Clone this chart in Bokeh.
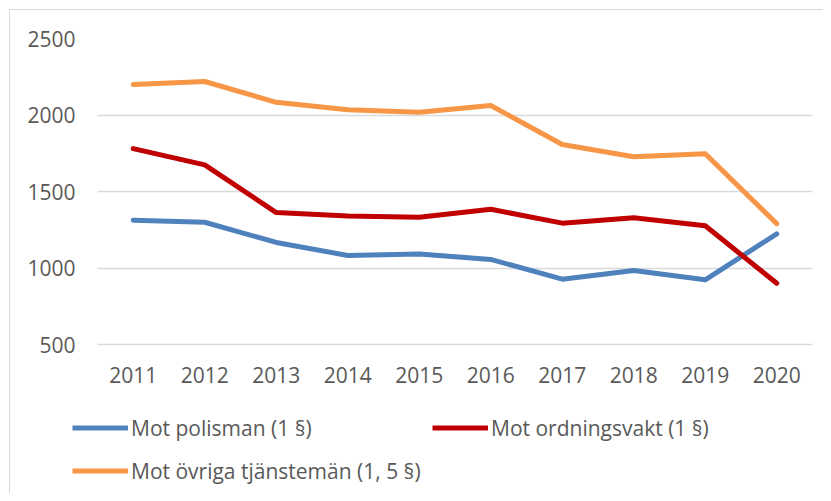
from bokeh.plotting import figure
from bokeh.layouts import column
from bokeh.models import FactorRange, Range1d, FixedTicker, Legend, LegendItem, InlineStyleSheet
from bokeh.embed import file_html
from bokeh.resources import INLINE

years = ["2011", "2012", "2013", "2014", "2015", "2016", "2017", "2018", "2019", "2020"]
polisman = [1312, 1299, 1167, 1082, 1091, 1056, 927, 984, 923, 1223]
ordningsvakt = [1780, 1674, 1362, 1340, 1331, 1384, 1293, 1328, 1276, 900]
ovriga = [2199, 2219, 2083, 2035, 2018, 2062, 1807, 1727, 1747, 1290]
y_ticks = [500, 1000, 1500, 2000, 2500]
labels = ["Mot polisman (1 §)", "Mot ordningsvakt (1 §)", "Mot övriga tjänstemän (1, 5 §)"]
colors = ["#4F81BD", "#C00000", "#F79646"]
series = [polisman, ordningsvakt, ovriga]

FONT = "Open Sans"
TXT = "#595959"
GRID = "#d9d9d9"
LW = 5

css_top = InlineStyleSheet(css=(
    ":host{position:relative;background:white;}"
    ":host::before{content:'';position:absolute;left:9px;top:9px;right:0;bottom:0;"
    "border-left:1px solid #d9d9d9;border-top:1px solid #d9d9d9;pointer-events:none;}"))
css_bot = InlineStyleSheet(css=(
    ":host{position:relative;background:white;}"
    ":host::before{content:'';position:absolute;left:9px;top:0;right:0;bottom:0;"
    "border-left:1px solid #d9d9d9;pointer-events:none;}"))

# main chart
p = figure(x_range=FactorRange(*years, range_padding=0), y_range=(500, 2500),
           width=823, height=400, output_backend="svg", toolbar_location=None,
           min_border_left=97, min_border_right=11, min_border_top=38, min_border_bottom=56)
p.frame_align = False
p.outline_line_color = None
p.background_fill_color = "white"
p.border_fill_alpha = 0
p.stylesheets = [css_top]

for vals, col in zip(series, colors):
    p.line(years, vals, line_color=col, line_width=LW, line_cap="round", line_join="round")

p.yaxis.ticker = FixedTicker(ticks=y_ticks)
p.yaxis.axis_line_color = None
p.yaxis.major_tick_line_color = None
p.yaxis.minor_tick_line_color = None
p.yaxis.major_label_standoff = 16
p.xaxis.axis_line_color = GRID
p.xaxis.axis_line_width = 1.3
p.xaxis.major_tick_line_color = None
p.xaxis.minor_tick_line_color = None
p.xaxis.major_label_standoff = 16
for ax in (p.xaxis, p.yaxis):
    ax.major_label_text_font = FONT
    ax.major_label_text_font_size = "21px"
    ax.major_label_text_color = TXT
p.xgrid.grid_line_color = None
p.ygrid.grid_line_color = GRID
p.ygrid.grid_line_width = 1.3

# legend strip below the chart
q = figure(x_range=FactorRange(*years), y_range=Range1d(0, 1),
           width=823, height=93, output_backend="svg", toolbar_location=None,
           x_axis_location=None, y_axis_location=None, min_border=0)
q.frame_align = False
q.outline_line_color = None
q.grid.visible = False
q.background_fill_alpha = 0
q.border_fill_alpha = 0
q.stylesheets = [css_bot]

legend_renderers = [q.line(years, vals, line_color=col, line_width=LW)
                    for vals, col in zip(series, colors)]

def mk_legend(items, loc):
    return Legend(items=items, location=loc, orientation="horizontal",
                  glyph_width=56, glyph_height=29, label_height=29, label_standoff=3,
                  label_width=289, spacing=12, padding=0, margin=0,
                  border_line_color=None, background_fill_alpha=0,
                  label_text_font=FONT, label_text_font_size="21px", label_text_color=TXT)

items = [LegendItem(label=lab, renderers=[r]) for lab, r in zip(labels, legend_renderers)]
q.add_layout(mk_legend(items[:2], (72, 51)), "center")
q.add_layout(mk_legend(items[2:], (72, 8)), "center")

layout = column(p, q, spacing=0)
open("out.html", "w").write(file_html(layout, INLINE))
